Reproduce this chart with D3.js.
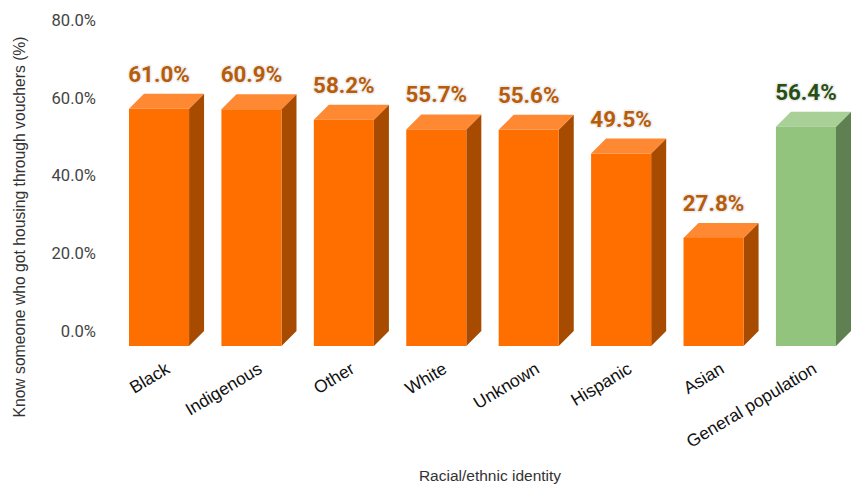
<!DOCTYPE html>
<html><head><meta charset="utf-8">
<script src="https://cdn.jsdelivr.net/npm/d3@7/dist/d3.min.js"></script>
<style>html,body{margin:0;background:#fff}svg{display:block}</style></head>
<body><svg id="c" width="858" height="485"></svg>
<script>
const categories=["Black","Indigenous","Other","White","Unknown","Hispanic","Asian","General population"];
const values=[61.0,60.9,58.2,55.7,55.6,49.5,27.8,56.4];
const groups=["race","race","race","race","race","race","race","general"];
const yTicks=[0,20,40,60,80];
const xTitle="Racial/ethnic identity";
const yTitle="Know someone who got housing through vouchers (%)";
const palette={race:{front:"#ff6f00",top:"#ff8833",side:"#a64b00",label:"#b85c0a"},
 general:{front:"#93c47d",top:"#a9d096",side:"#5f8152",label:"#274e13"}};
const D=15;
const svg=d3.select("#c");
const x=d3.scaleBand().domain(categories).range([129,836]).paddingInner(.35);
const y=d3.scaleLinear().domain([0,80]).range([346,35]);
const data=categories.map((c,i)=>({c,v:values[i],p:palette[groups[i]]}));
const g=svg.selectAll("g.bar").data(data).join("g").attr("class","bar");
const poly=(a)=>a.map(p=>p.join(",")).join(" ");
g.append("polygon").attr("fill",d=>d.p.side).attr("points",d=>{const r=x(d.c)+x.bandwidth();return poly([[r,y(d.v)],[r+D,y(d.v)-D],[r+D,y(0)-D],[r,y(0)]]);});
g.append("polygon").attr("fill",d=>d.p.top).attr("points",d=>{const l=x(d.c),r=l+x.bandwidth(),t=y(d.v);return poly([[l,t],[l+D,t-D],[r+D,t-D],[r,t]]);});
g.append("rect").attr("fill",d=>d.p.front).attr("x",d=>x(d.c)).attr("width",x.bandwidth()).attr("y",d=>y(d.v)).attr("height",d=>y(0)-y(d.v));
g.append("text").text(d=>d.v.toFixed(1)+"%")
 .attr("x",d=>x(d.c)+x.bandwidth()/2).attr("y",d=>y(d.v)-27)
 .attr("text-anchor","middle").attr("font-family","Roboto").attr("font-weight",700).attr("font-size",22.4)
 .attr("fill",d=>d.p.label).attr("stroke","#eeeeee").attr("stroke-width",3).attr("stroke-linejoin","round").attr("paint-order","stroke");
// y axis drawn on the back plane of the 3D bars
const yAxis=svg.append("g").attr("transform",`translate(96,${-D})`)
 .call(d3.axisLeft(y).tickValues(yTicks).tickFormat(d=>d.toFixed(1)+"%").tickSize(0).tickPadding(0));
yAxis.select(".domain").remove();
yAxis.selectAll("text").attr("font-family","Roboto").attr("font-size",16.6).attr("fill","#444");
const xAxis=svg.append("g");
xAxis.selectAll("text").data(categories).join("text").text(d=>d)
 .attr("transform",d=>`translate(${x(d)+x.bandwidth()/2+9.5},368) rotate(-31)`)
 .attr("text-anchor","end").attr("dominant-baseline","middle")
 .attr("font-family","Liberation Sans").attr("font-size",17.5).attr("fill","#111");
svg.append("text").text(xTitle).attr("x",490).attr("y",481).attr("text-anchor","middle")
 .attr("font-family","Liberation Sans").attr("font-size",15.5).attr("fill","#333");
svg.append("text").text(yTitle).attr("transform","translate(25,227) rotate(-90)").attr("text-anchor","middle")
 .attr("font-family","Liberation Sans").attr("font-size",15.7).attr("fill","#333");
</script></body></html>
